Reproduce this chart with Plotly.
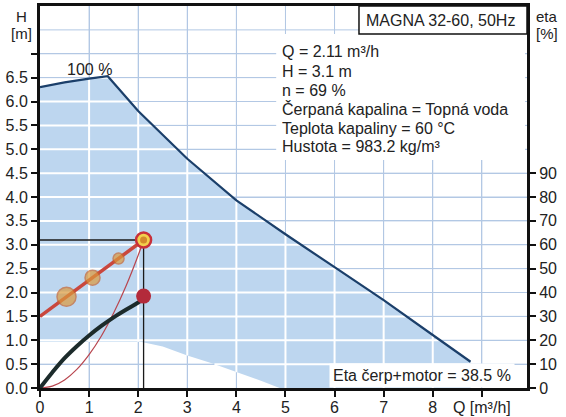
import numpy as np
import plotly.graph_objects as go

# ---------------- data ----------------
q_max = [0.0, 0.5, 1.0, 1.38, 2.0, 3.0, 4.0, 5.0, 6.0, 7.0, 8.0, 8.77]
h_max = [6.30, 6.40, 6.48, 6.53, 5.80, 4.80, 3.93, 3.22, 2.53, 1.84, 1.11, 0.55]

q_min = [0.0, 2.05, 2.5, 3.0, 3.5, 4.0, 4.5, 4.88]
h_min = [0.97, 0.97, 0.87, 0.68, 0.52, 0.33, 0.15, 0.0]

q_pp = [0.0, 2.11]
h_pp = [1.50, 3.10]
q_pp_dots = [0.54, 1.07, 1.60]
h_pp_dots = [1.91, 2.31, 2.71]
pp_dot_sizes = [19, 15, 11]

q_sys = [0.0, 0.25, 0.5, 0.75, 1.0, 1.25, 1.5, 1.75, 2.0, 2.11]
h_sys = [0.0, 0.04, 0.17, 0.39, 0.70, 1.09, 1.57, 2.13, 2.78, 3.10]

q_eta = [0.0, 0.25, 0.5, 0.75, 1.0, 1.25, 1.5, 1.75, 2.0, 2.11]
eta = [0.0, 6.5, 12.5, 17.5, 22.0, 26.0, 29.6, 32.8, 35.8, 37.3]

op_q = 2.11
op_h = 3.1
op_eta = 38.5

x_tickvals = [0, 1, 2, 3, 4, 5, 6, 7, 8, 9]
x_ticktext = ["0", "1", "2", "3", "4", "5", "6", "7", "8", "Q [m³/h]"]
y_tickvals = [0.0, 0.5, 1.0, 1.5, 2.0, 2.5, 3.0, 3.5, 4.0, 4.5, 5.0, 5.5, 6.0, 6.5, 7.0]
y_ticktext = ["0.0", "0.5", "1.0", "1.5", "2.0", "2.5", "3.0", "3.5", "4.0", "4.5",
              "5.0", "5.5", "6.0", "6.5", ""]
y_grid = [0.5, 1.0, 1.5, 2.0, 2.5, 3.0, 3.5, 4.0, 4.5, 5.0, 5.5, 6.0, 6.5, 7.0, 7.5]
x_grid = [1, 2, 3, 4, 5, 6, 7, 8, 9]
y2_tickvals = [0, 10, 20, 30, 40, 50, 60, 70, 80, 90]

info_lines = ["Q = 2.11 m³/h", "H = 3.1 m", "n = 69 %",
              "Čerpaná kapalina = Topná voda", "Teplota kapaliny = 60 °C",
              "Hustota = 983.2 kg/m³"]
title_box = "MAGNA 32-60, 50Hz"
eta_text = "Eta čerp+motor = 38.5 %"

X_MAX = 9.92
Y_MAX = 8.0
ETA_MAX = 160.0

FONT = "Liberation Sans, Arial, sans-serif"
TXT = "#222222"
BLUE_FILL = "#bdd6ef"
GRID = "#b3c8e4"

fig = go.Figure()


def seg(x0, y0, x1, y1, color, width):
    fig.add_trace(go.Scatter(x=[x0, x1], y=[y0, y1], mode="lines",
                             line=dict(color=color, width=width),
                             hoverinfo="skip", showlegend=False))


# light grid lines over the whole plot
for k in x_grid:
    seg(k, 0, k, Y_MAX, GRID, 1)
for h in y_grid:
    seg(0, h, X_MAX, h, GRID, 1)

# blue operating area
area_x = list(q_max) + [q_max[-1]] + list(reversed(q_min))
area_y = list(h_max) + [0.0] + list(reversed(h_min))
fig.add_trace(go.Scatter(x=area_x, y=area_y, fill="toself", fillcolor=BLUE_FILL,
                         line=dict(width=0), mode="lines", hoverinfo="skip",
                         showlegend=False))

# white grid lines inside the blue area
qq = np.linspace(0, q_max[-1], 4000)
hi = np.interp(qq, q_max, h_max)
lo = np.interp(qq, q_min, h_min, right=0.0)
for k in x_grid:
    if k < q_max[-1]:
        seg(k, float(np.interp(k, q_min, h_min, right=0.0)),
            k, float(np.interp(k, q_max, h_max)), "#ffffff", 2)
for h in y_grid:
    idx = np.where((lo < h) & (hi > h))[0]
    if len(idx) == 0:
        continue
    for r in np.split(idx, np.where(np.diff(idx) > 1)[0] + 1):
        seg(float(qq[r[0]]), h, float(qq[r[-1]]), h, "#ffffff", 2)

# max curve
fig.add_trace(go.Scatter(x=q_max, y=h_max, mode="lines",
                         line=dict(color="#1b3f6a", width=2.2), showlegend=False))

# operating point guide lines
fig.add_trace(go.Scatter(x=[0, op_q, op_q], y=[op_h, op_h, 0], mode="lines",
                         line=dict(color="#1a1a1a", width=1.3), showlegend=False))

# system curve
fig.add_trace(go.Scatter(x=q_sys, y=h_sys, mode="lines", line_shape="spline",
                         line=dict(color="#b8454e", width=1.2), showlegend=False))

# proportional-pressure line and dots
fig.add_trace(go.Scatter(x=q_pp, y=h_pp, mode="lines",
                         line=dict(color="#c9473e", width=3.5), showlegend=False))
fig.add_trace(go.Scatter(x=q_pp_dots, y=h_pp_dots, mode="markers",
                         marker=dict(size=pp_dot_sizes, color="#dc9a3c",
                                     line=dict(color="#c8662e", width=1.5)),
                         showlegend=False))

# efficiency curve (right axis)
fig.add_trace(go.Scatter(x=q_eta, y=eta, mode="lines", line_shape="spline", yaxis="y2",
                         line=dict(color="#1c2b2b", width=4), showlegend=False))
fig.add_trace(go.Scatter(x=[op_q], y=[op_eta], mode="markers", yaxis="y2",
                         marker=dict(size=15, color="#b32a3a"), showlegend=False))

# operating point marker
fig.add_trace(go.Scatter(x=[op_q], y=[op_h], mode="markers",
                         marker=dict(size=15, color="#f2d04c",
                                     line=dict(color="#c8303a", width=2.5)),
                         showlegend=False))
fig.add_trace(go.Scatter(x=[op_q], y=[op_h], mode="markers",
                         marker=dict(size=7, color="#d48a2c"), showlegend=False))

# boxes
fig.add_shape(type="rect", xref="paper", yref="paper", x0=0.485, x1=0.996,
              y0=0.597, y1=0.927, fillcolor="white", line=dict(width=0), layer="above")
fig.add_shape(type="rect", xref="paper", yref="paper", x0=0.655, x1=1.0,
              y0=0.927, y1=1.0, fillcolor="white", line=dict(color="#111", width=1.5),
              layer="above")


def txt(text, x, y, xa="center", ya="middle", size=16, **kw):
    return dict(text=text, x=x, y=y, xref="paper", yref="paper", xanchor=xa, yanchor=ya,
                showarrow=False, font=dict(size=size, color=TXT, family=FONT), **kw)


ann = [txt(title_box, 0.823, 0.963)]
ys = [0.8796, 0.8298, 0.7801, 0.7304, 0.6806, 0.6309]
for t, yv in zip(info_lines, ys):
    ann.append(txt(t, 0.493, yv, xa="left"))
ann.append(txt(eta_text, 0.784, 0.034, bgcolor="white", borderpad=3))
ann.append(dict(text="100 %", x=1.0, y=6.67, xref="x", yref="y", showarrow=False,
                font=dict(size=16, color=TXT, family=FONT)))
for t, xv, yv in [("H", -0.037, 0.972), ("[m]", -0.039, 0.929),
                  ("eta", 1.041, 0.972), ("[%]", 1.041, 0.929)]:
    ann.append(txt(t, xv, yv, size=15))

axis_common = dict(showline=True, linecolor="#111", linewidth=3, ticks="outside",
                   tickcolor="#111", tickwidth=2, ticklen=6,
                   tickfont=dict(size=16, color=TXT, family=FONT), zeroline=False)

fig.update_layout(
    width=566, height=417,
    margin=dict(l=40, r=39, t=6, b=29, autoexpand=False),
    paper_bgcolor="white", plot_bgcolor="white",
    showlegend=False,
    annotations=ann,
    xaxis=dict(range=[0, X_MAX], tickvals=x_tickvals, ticktext=x_ticktext,
               mirror=True, ticklabelstandoff=-3, showgrid=True, gridcolor=GRID,
               gridwidth=1, **axis_common),
    yaxis=dict(range=[0, Y_MAX], tickvals=y_tickvals, ticktext=y_ticktext,
               mirror=True, showgrid=True, gridcolor=GRID, gridwidth=1, **axis_common),
    yaxis2=dict(range=[0, ETA_MAX], overlaying="y", side="right", tickvals=y2_tickvals,
                showgrid=False, **axis_common),
)

fig.write_html("out.html", config={"displayModeBar": False},
               post_script="document.body.style.margin='0px';")
